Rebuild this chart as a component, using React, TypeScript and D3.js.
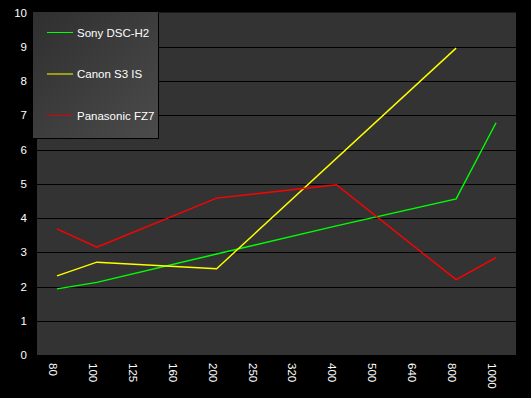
import { useEffect, useRef } from 'react';
import * as d3 from 'd3';

// ISO speed categories along the x axis
const isoLabels = ['80', '100', '125', '160', '200', '250', '320', '400', '500', '640', '800', '1000'];

// noise values (null = no point at that ISO)
const sonyValues = [1.93, 2.12, null, null, 2.95, null, null, 3.77, null, null, 4.56, 6.78];
const canonValues = [2.31, 2.71, null, null, 2.52, null, null, null, null, null, 8.96, null];
const panasonicValues = [3.68, 3.15, null, null, 4.58, null, null, 4.97, null, null, 2.2, 2.84];

const seriesNames = ['Sony DSC-H2', 'Canon S3 IS', 'Panasonic FZ7'];
const seriesColors = ['#00ff00', '#ffff00', '#ff0000'];
const legendColors = ['#00ff00', '#ffff00', '#dd0000'];

const yTicks = [0, 1, 2, 3, 4, 5, 6, 7, 8, 9, 10];

export default function App() {
  const ref = useRef<SVGSVGElement | null>(null);

  useEffect(() => {
    if (!ref.current) return;
    const svg = d3.select(ref.current);
    svg.selectAll('*').remove();

    const W = 531;
    const H = 398;
    const plot = { left: 37, right: 516, top: 12.5, bottom: 355 };
    const font = '"Liberation Sans", Arial, sans-serif';
    const fontSize = 11.5;

    svg.attr('width', W).attr('height', H);
    svg.append('rect').attr('width', W).attr('height', H).attr('fill', '#000');

    const x = d3
      .scalePoint<string>()
      .domain(isoLabels)
      .range([plot.left, plot.right])
      .padding(0.5);

    const y = d3.scaleLinear().domain([0, 10]).range([plot.bottom, plot.top]);

    svg
      .append('rect')
      .attr('x', plot.left)
      .attr('y', plot.top)
      .attr('width', plot.right - plot.left)
      .attr('height', plot.bottom - plot.top)
      .attr('fill', '#333333');

    // gridlines
    svg
      .append('g')
      .selectAll('line')
      .data(yTicks.filter(t => t > 0 && t < 10))
      .enter()
      .append('line')
      .attr('x1', plot.left)
      .attr('x2', plot.right)
      .attr('y1', d => Math.round(y(d)) + 0.5)
      .attr('y2', d => Math.round(y(d)) + 0.5)
      .attr('stroke', '#000')
      .attr('stroke-width', 1);

    // y tick labels
    svg
      .append('g')
      .selectAll('text')
      .data(yTicks)
      .enter()
      .append('text')
      .attr('x', 27)
      .attr('y', d => y(d))
      .attr('dy', '0.35em')
      .attr('text-anchor', 'end')
      .attr('fill', '#fff')
      .attr('font-family', font)
      .attr('font-size', fontSize)
      .text(d => d);

    // x tick labels, rotated
    svg
      .append('g')
      .selectAll('text')
      .data(isoLabels)
      .enter()
      .append('text')
      .attr('transform', d => `translate(${x(d)! - 4},363) rotate(90)`)
      .attr('dy', '0.35em')
      .attr('text-anchor', 'start')
      .attr('fill', '#fff')
      .attr('font-family', font)
      .attr('font-size', fontSize)
      .text(d => d);

    const all = [sonyValues, canonValues, panasonicValues];
    const line = d3
      .line<{ cat: string; v: number }>()
      .x(d => x(d.cat)!)
      .y(d => y(d.v));

    all.forEach((vals, i) => {
      const pts = vals
        .map((v, j) => ({ cat: isoLabels[j], v: v as number }))
        .filter(d => d.v != null);
      svg
        .append('path')
        .datum(pts)
        .attr('fill', 'none')
        .attr('stroke', seriesColors[i])
        .attr('stroke-width', 1.4)
        .attr('d', line);
    });

    // legend
    const defs = svg.append('defs');
    const grad = defs
      .append('linearGradient')
      .attr('id', 'legendGrad')
      .attr('x1', '0%')
      .attr('y1', '0%')
      .attr('x2', '100%')
      .attr('y2', '100%');
    grad.append('stop').attr('offset', '0%').attr('stop-color', '#2f2f2f');
    grad.append('stop').attr('offset', '100%').attr('stop-color', '#4b4b4b');

    const lg = svg.append('g').attr('transform', 'translate(33,12)');
    lg.append('rect').attr('x', 1).attr('y', 1).attr('width', 125).attr('height', 126).attr('fill', '#000');
    lg.append('rect').attr('width', 125).attr('height', 126).attr('fill', 'url(#legendGrad)');

    const entryY = d3.scalePoint<string>().domain(seriesNames).range([20.5, 103.5]);
    seriesNames.forEach((name, i) => {
      lg.append('line')
        .attr('x1', 14)
        .attr('x2', 40)
        .attr('y1', entryY(name)!)
        .attr('y2', entryY(name)!)
        .attr('stroke', legendColors[i])
        .attr('stroke-width', 1);
      lg.append('text')
        .attr('x', 44)
        .attr('y', entryY(name)!)
        .attr('dy', '0.35em')
        .attr('fill', '#fff')
        .attr('font-family', font)
        .attr('font-size', fontSize)
        .text(name);
    });
  }, []);

  return (
    <div style={{ position: 'absolute', left: 0, top: 0 }}>
      <svg ref={ref} style={{ display: 'block' }}></svg>
    </div>
  );
}
